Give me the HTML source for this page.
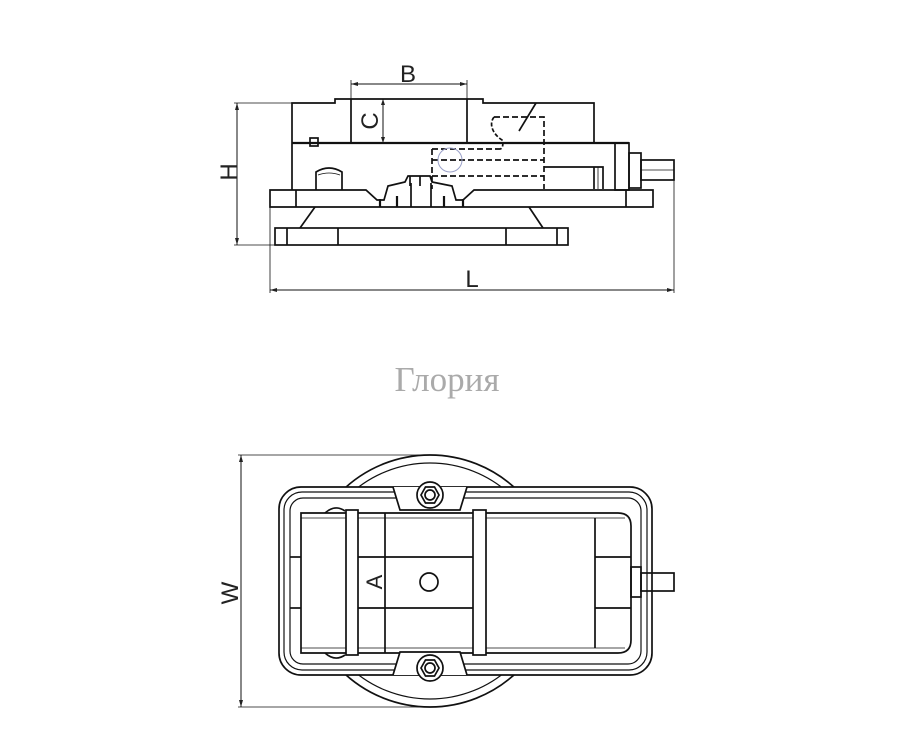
<!DOCTYPE html>
<html><head><meta charset="utf-8"><style>
html,body{margin:0;padding:0;background:#fff;width:902px;height:750px;overflow:hidden}
svg{display:block}
text{font-family:"Liberation Sans",sans-serif;fill:#222}
</style></head><body>
<svg width="902" height="750" viewBox="0 0 902 750" xmlns="http://www.w3.org/2000/svg">
<g fill="none" stroke="#111" stroke-width="1.7">
<!-- ===== Side view ===== -->
<line x1="237" y1="103" x2="237" y2="245" stroke-width="1"/>
<line x1="234" y1="103" x2="292" y2="103" stroke-width="0.8"/>
<line x1="234" y1="245" x2="275" y2="245" stroke-width="0.8"/>
<polyline points="292,190 292,103 335,103 335,99 483,99 483,103 594,103 594,143"/>
<line x1="351" y1="99" x2="351" y2="143"/>
<line x1="467" y1="99" x2="467" y2="143"/>
<line x1="292" y1="143" x2="629" y2="143" stroke-width="2.2"/>
<rect x="310" y="138" width="8" height="8"/>
<rect x="615" y="143" width="14" height="47"/>
<rect x="629" y="153" width="12" height="35"/>
<rect x="641" y="160" width="33" height="20"/>
<line x1="641" y1="170" x2="674" y2="170" stroke-width="0.8"/>
<g stroke-dasharray="6,3">
<polyline points="494,117 544,117 544,189"/>
<line x1="432" y1="149" x2="500" y2="149"/>
<line x1="432" y1="160" x2="544" y2="160"/>
<line x1="432" y1="176" x2="544" y2="176"/>
<line x1="432" y1="149" x2="432" y2="189"/>
</g>
<path d="M494,117 C488,125 494,135 502,140 C504,145 502,149 500,149" stroke-dasharray="4,2"/>
<line x1="519" y1="131" x2="536" y2="103"/>
<circle cx="450" cy="160" r="12" stroke="#9aa0c8" stroke-width="1"/>
<polyline points="544,167 603,167 603,189"/>
<line x1="594" y1="167" x2="594" y2="189"/>
<line x1="598" y1="167" x2="598" y2="189" stroke-width="0.8"/>
<path d="M316,190 L316,172 Q329,164 342,172 L342,190"/>
<path d="M318,175 Q329,171 340,175" stroke-width="0.8"/>
<path d="M270,190 L366,190 L377,200 L384,200 L388,186 L405,182 L408,176 L430,176 L432,182 L452,186 L456,200 L463,200 L474,190 L653,190 L653,207 L270,207 Z"/>
<line x1="296" y1="190" x2="296" y2="207"/>
<line x1="626" y1="190" x2="626" y2="207"/>
<line x1="411" y1="183" x2="411" y2="207"/>
<line x1="431" y1="183" x2="431" y2="207"/>
<line x1="380" y1="199" x2="380" y2="207" stroke-width="2.2"/>
<line x1="397" y1="196" x2="397" y2="207" stroke-width="2.2"/>
<line x1="444" y1="196" x2="444" y2="207" stroke-width="2.2"/>
<line x1="463" y1="199" x2="463" y2="207" stroke-width="2.2"/>
<line x1="410" y1="176" x2="410" y2="186"/>
<line x1="420" y1="176" x2="420" y2="186"/>
<line x1="315" y1="207" x2="300" y2="228"/>
<line x1="529" y1="207" x2="543" y2="228"/>
<rect x="275" y="228" width="293" height="17"/>
<line x1="287" y1="228" x2="287" y2="245"/>
<line x1="338" y1="228" x2="338" y2="245"/>
<line x1="506" y1="228" x2="506" y2="245"/>
<line x1="557" y1="228" x2="557" y2="245"/>
<line x1="351" y1="84" x2="467" y2="84" stroke-width="1"/>
<line x1="351" y1="80" x2="351" y2="99" stroke-width="0.8"/>
<line x1="467" y1="80" x2="467" y2="99" stroke-width="0.8"/>
<line x1="383" y1="99" x2="383" y2="143" stroke-width="1"/>
<line x1="270" y1="207" x2="270" y2="293" stroke-width="0.8"/>
<line x1="674" y1="160" x2="674" y2="293" stroke-width="0.8"/>
<line x1="270" y1="290" x2="674" y2="290" stroke-width="1"/>

<!-- ===== Top view ===== -->
<line x1="241" y1="455" x2="241" y2="707" stroke-width="1"/>
<line x1="238" y1="455" x2="420" y2="455" stroke-width="0.8"/>
<line x1="238" y1="707" x2="420" y2="707" stroke-width="0.8"/>
<circle cx="430" cy="581" r="126"/>
<circle cx="430" cy="581" r="118" stroke-width="1.2"/>
<rect x="279" y="487" width="373" height="188" rx="22" fill="#fff"/>
<rect x="284" y="492" width="363" height="178" rx="18" stroke-width="1.2"/>
<rect x="290" y="498" width="351" height="166" rx="13" stroke-width="1.2"/>
<path d="M301,513 L618,513 Q631,513 631,526 L631,640 Q631,653 618,653 L301,653 Z"/>
<line x1="301" y1="518" x2="625" y2="518" stroke-width="0.8"/>
<line x1="301" y1="648" x2="625" y2="648" stroke-width="0.8"/>
<rect x="346" y="510" width="12" height="145" fill="#fff"/>
<rect x="473" y="510" width="13" height="145" fill="#fff"/>
<line x1="385" y1="513" x2="385" y2="653"/>
<line x1="358" y1="557" x2="473" y2="557"/>
<line x1="358" y1="608" x2="473" y2="608"/>
<circle cx="429" cy="582" r="9"/>
<line x1="595" y1="518" x2="595" y2="648"/>
<line x1="595" y1="557" x2="631" y2="557"/>
<line x1="595" y1="608" x2="631" y2="608"/>
<rect x="631" y="567" width="10" height="30"/>
<rect x="641" y="573" width="33" height="18"/>
<line x1="290" y1="557" x2="301" y2="557"/>
<line x1="290" y1="608" x2="301" y2="608"/>
<path d="M325,513 Q335,504 345,511"/>
<path d="M325,653 Q335,662 345,655"/>
<path d="M393,487 L400,510 L460,510 L467,487" fill="#fff"/>
<path d="M393,675 L400,652 L460,652 L467,675" fill="#fff"/>
<circle cx="430" cy="495" r="13" fill="#fff"/>
<polygon points="421,495 425.5,487 434.5,487 439,495 434.5,503 425.5,503"/>
<circle cx="430" cy="495" r="5"/>
<circle cx="430" cy="668" r="13" fill="#fff"/>
<polygon points="421,668 425.5,660 434.5,660 439,668 434.5,676 425.5,676"/>
<circle cx="430" cy="668" r="5"/>
</g>
<g fill="#222">
<polygon points="237,103 235,110 239,110"/><polygon points="237,245 235,238 239,238"/>
<polygon points="351,84 358,82 358,86"/><polygon points="467,84 460,82 460,86"/>
<polygon points="383,99 381,105 385,105"/><polygon points="383,143 381,137 385,137"/>
<polygon points="270,290 277,288 277,292"/><polygon points="674,290 667,288 667,292"/>
<polygon points="241,455 239,462 243,462"/><polygon points="241,707 239,700 243,700"/>
</g>
<text x="408" y="82" font-size="24" text-anchor="middle">B</text>
<text transform="translate(378,121) rotate(-90)" font-size="24" text-anchor="middle">C</text>
<text transform="translate(237,172) rotate(-90)" font-size="24" text-anchor="middle">H</text>
<text x="472" y="287" font-size="24" text-anchor="middle">L</text>
<text transform="translate(238,593) rotate(-90)" font-size="24" text-anchor="middle">W</text>
<text transform="translate(382,582) rotate(-90)" font-size="22" text-anchor="middle">A</text>
<text x="447" y="391" font-size="35" text-anchor="middle" style="font-family:'Liberation Serif',serif;fill:#aaa">Глория</text>
</svg>
</body></html>
